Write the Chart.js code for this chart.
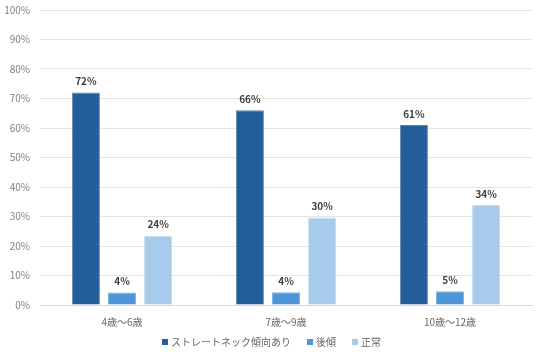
<!DOCTYPE html>
<html>
<head>
<meta charset="utf-8">
<script src="https://cdn.jsdelivr.net/npm/chart.js@4"></script>
<style>
html,body{margin:0;padding:0;background:#fff;}
#wrap{width:536px;height:357px;}
</style>
</head>
<body>
<div id="wrap"><canvas id="c" width="536" height="357"></canvas></div>
<script>
const categories = ['4歳〜6歳', '7歳〜9歳', '10歳〜12歳'];
const seriesNames = ['ストレートネック傾向あり', '後傾', '正常'];
const straightNeck = [72, 66, 61];
const backward = [4.2, 4.3, 4.7];
const normal = [23.5, 29.7, 33.9];
const yTicks = [0, 10, 20, 30, 40, 50, 60, 70, 80, 90, 100];

const FONT = '"Noto Sans CJK JP", "Noto Sans", sans-serif';

const labelPlugin = {
  id: 'valueLabels',
  afterDatasetsDraw(chart) {
    const ctx = chart.ctx;
    ctx.save();
    ctx.font = 'bold 10px ' + FONT;
    ctx.fillStyle = '#404040';
    ctx.textAlign = 'center';
    ctx.textBaseline = 'bottom';
    chart.data.datasets.forEach((ds, i) => {
      const meta = chart.getDatasetMeta(i);
      meta.data.forEach((bar, j) => {
        ctx.fillText(Math.round(ds.data[j]) + '%', bar.x, bar.y - 6);
      });
    });
    ctx.restore();
  }
};

const legendPlugin = {
  id: 'customLegend',
  afterDraw(chart) {
    const ctx = chart.ctx;
    ctx.save();
    ctx.font = '10px ' + FONT;
    ctx.textBaseline = 'middle';
    const box = 6, gapText = 3, gapItem = 16;
    const items = chart.data.datasets.map(ds => ({ text: ds.label, color: ds.backgroundColor, w: ctx.measureText(ds.label).width }));
    let total = 0;
    items.forEach((it, i) => { total += box + gapText + it.w + (i < items.length - 1 ? gapItem : 0); });
    let x = Math.round(271 - total / 2);
    const y = 342;
    items.forEach(it => {
      ctx.fillStyle = it.color;
      ctx.fillRect(x, y - box / 2, box, box);
      ctx.fillStyle = '#666666';
      ctx.textAlign = 'left';
      ctx.fillText(it.text, x + box + gapText, y);
      x += box + gapText + it.w + gapItem;
    });
    ctx.restore();
  }
};

new Chart(document.getElementById('c'), {
  type: 'bar',
  data: {
    labels: categories,
    datasets: [
      { label: seriesNames[0], data: straightNeck, backgroundColor: '#225E9A', borderColor: '#5b86b4', borderWidth: 1 },
      { label: seriesNames[1], data: backward, backgroundColor: '#4E96D9', borderColor: '#7fb2e2', borderWidth: 1 },
      { label: seriesNames[2], data: normal, backgroundColor: '#A8CBEC', borderColor: '#c6dcf2', borderWidth: 1 }
    ]
  },
  options: {
    responsive: false,
    animation: false,
    devicePixelRatio: 1,
    layout: { padding: { top: 10, right: 4, left: 0, bottom: 0 } },
    datasets: { bar: { categoryPercentage: 0.661, barPercentage: 0.778 } },
    scales: {
      x: {
        grid: { display: false },
        border: { display: true, color: '#d9d9d9' },
        ticks: { color: '#666666', font: { family: FONT, size: 10 }, padding: 3 },
        afterFit(s) { s.height = 52; s.paddingLeft = 0; s.paddingRight = 0; }
      },
      y: {
        min: 0, max: 100,
        afterBuildTicks(s) { s.ticks = yTicks.map(v => ({ value: v })); },
        grid: { color: '#e3e3e3', drawTicks: false },
        border: { display: false },
        ticks: { color: '#808080', font: { family: FONT, size: 10 }, padding: 10, callback: v => v + '%' },
        afterFit(s) { s.width = 40; s.paddingTop = 0; s.paddingBottom = 0; }
      }
    },
    plugins: {
      legend: { display: false },
      tooltip: { enabled: false }
    }
  },
  plugins: [labelPlugin, legendPlugin]
});
</script>
</body>
</html>
